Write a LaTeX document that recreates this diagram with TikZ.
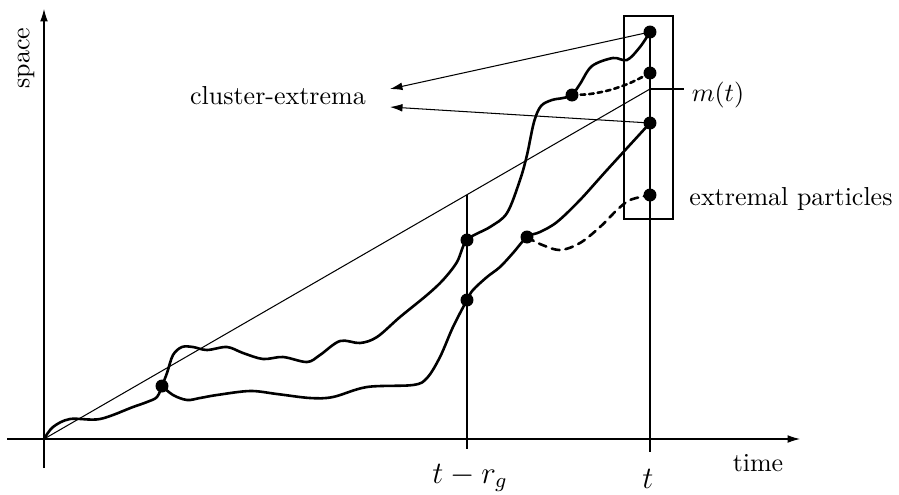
\documentclass[tikz,border=0pt]{standalone}
\usetikzlibrary{arrows.meta}
\begin{document}
\begin{tikzpicture}[x=0.385pt,y=-0.385pt,
  thinline/.style={line width=0.4pt},
  curvepath/.style={line width=1pt, line cap=round, line join=round},
  dot/.style={circle, fill=black, inner sep=0pt, minimum size=5pt},
  tip/.style={-{Latex[length=4.8pt,width=3pt]}},
  lbl/.style={inner sep=0pt}]
\useasboundingbox (0,0) rectangle (899,494);
% axes
\coordinate (O) at (44,439);
\coordinate (xs) at (7,439);
\coordinate (xe) at (800,439);
\coordinate (ys) at (44,468);
\coordinate (ye) at (44,9);
\draw[thinline,tip] (xs) -- (xe);
\draw[thinline,tip] (ys) -- (ye);
% dots
\node[dot] (A) at (162,386) {};
\node[dot] (B) at (467,240) {};
\node[dot] (C) at (467,300) {};
\node[dot] (D) at (527,237) {};
\node[dot] (E) at (572,95) {};
\node[dot] (P1) at (650,32) {};
\node[dot] (P2) at (650,73) {};
\node[dot] (P3) at (650,123) {};
\node[dot] (P4) at (650,195) {};
% thin lines
\coordinate (M) at (650,89);
\coordinate (G) at (467,194.7);
\coordinate (Gb) at (467,449);
\coordinate (Tb) at (650,452);
\coordinate (mt) at (684,89);
\draw[thinline] (O) -- (M);
\draw[thinline] (M) -- (mt);
\draw[thinline] (G) -- (Gb);
\draw[thinline] (P1.center) -- (Tb);
\draw[thinline] (624,16) rectangle (673,219);
% curves
\draw[curvepath] plot[smooth, tension=0.55] coordinates {(O) (53,427) (70,419) (100,419) (133,407) (147,402) (157,397) (A.center)};
\draw[curvepath] plot[smooth, tension=0.55] coordinates {(A.center) (167,373) (173,355) (182,347) (193,347) (207,350) (227,347) (243,353) (263,359) (283,357) (307,362) (320,355) (340,341) (360,343) (377,337) (400,317) (427,295) (443,280) (457,262) (B.center) (490,227) (507,213) (520,180) (527,155) (534,122) (541,106) (552,100) (563,98) (E.center) (580,84) (592,66) (613,58) (627,60) (640,47) (P1.center)};
\draw[curvepath] plot[smooth, tension=0.55] coordinates {(A.center) (173,395) (187,400) (200,398) (217,395) (250,391) (277,394) (310,398) (333,397) (367,387) (413,385) (427,378) (440,357) (453,327) (C.center) (473,290) (487,277) (500,267) (513,253) (D.center) (540,232) (557,222) (580,200) (607,170) (P3.center)};
\draw[curvepath, dash pattern=on 3pt off 2.3pt] plot[smooth, tension=0.55] coordinates {(D.center) (540,244) (560,250) (580,243) (600,227) (617,210) (630,200) (P4.center)};
\draw[curvepath, dash pattern=on 1.8pt off 1.5pt] plot[smooth, tension=0.55] coordinates {(E.center) (590,94) (610,90) (630,83) (P2.center)};
% arrows to cluster-extrema
\coordinate (ce1) at (390,89);
\coordinate (ce2) at (390,107);
\draw[thinline,tip] (P1.center) -- (ce1);
\draw[thinline,tip] (P3.center) -- (ce2);
% labels
\node[lbl] (lce) at (278,96) {cluster-extrema};
\node[lbl] (lmt) at (718,95) {$m(t)$};
\node[lbl] (lep) at (791,199) {extremal particles};
\node[lbl, rotate=90] (lsp) at (26,58) {space};
\node[lbl] (ltime) at (758,463) {time};
\node[lbl, font=\large] (ltrg) at (470,478) {$t-r_g$};
\node[lbl, font=\large] (lt) at (648,479) {$t$};
\end{tikzpicture}
\end{document}
